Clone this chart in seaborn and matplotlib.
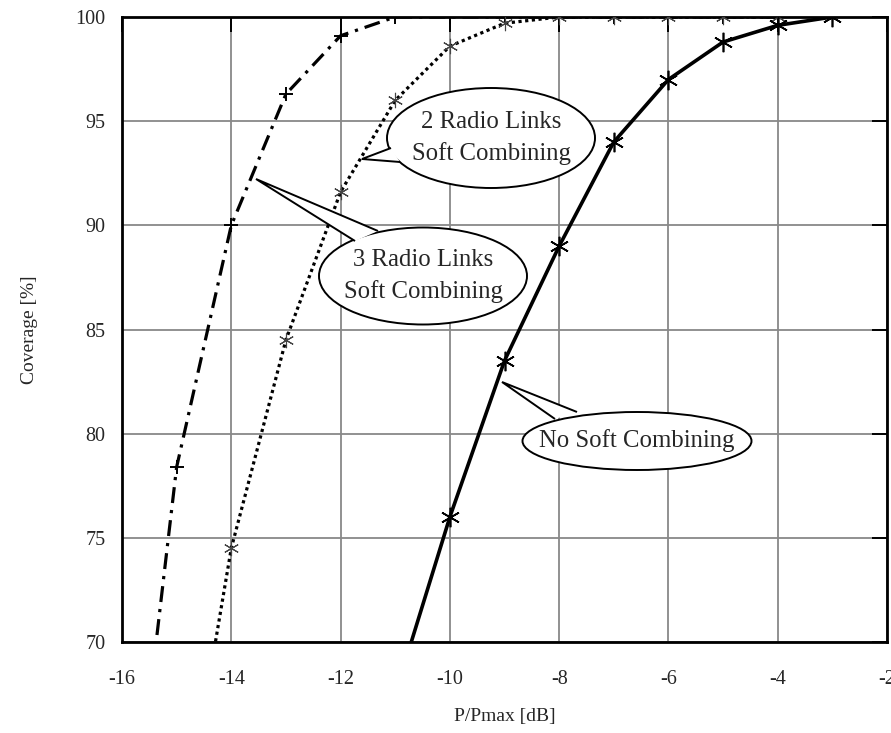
import numpy as np
import pandas as pd
import matplotlib
matplotlib.use("Agg")
import matplotlib.pyplot as plt
import seaborn as sns
from matplotlib.patches import Ellipse, Polygon

# ---- data ----
x_no = [-11, -10, -9, -8, -7, -6, -5, -4, -3]
y_no = [67.5, 76.0, 83.5, 89.0, 94.0, 97.0, 98.8, 99.6, 100.0]

x_two = [-15, -14, -13, -12, -11, -10, -9, -8, -7, -6, -5, -4]
y_two = [59.0, 74.5, 84.5, 91.6, 96.0, 98.6, 99.7, 100.0, 100.0, 100.0, 100.0, 100.0]

x_three = [-16, -15, -14, -13, -12, -11, -10, -9, -8, -7, -6, -5, -4]
y_three = [56.0, 78.4, 90.0, 96.3, 99.1, 100.0, 100.0, 100.0, 100.0, 100.0, 100.0, 100.0, 100.0]

x_ticks = [-16, -14, -12, -10, -8, -6, -4, -2]
y_ticks = [70, 75, 80, 85, 90, 95, 100]

x_label = "P/Pmax [dB]"
y_label = "Coverage [%]"

sns.set_style("white")
plt.rcParams['font.family'] = ['Liberation Serif', 'DejaVu Serif']

fig = plt.figure(figsize=(8.91, 7.33), dpi=100)
ax = fig.add_axes([122 / 891, (733 - 642) / 733, 765 / 891, 625 / 733])

df_no = pd.DataFrame({"x": x_no, "y": y_no})
df_two = pd.DataFrame({"x": x_two, "y": y_two})
df_three = pd.DataFrame({"x": x_three, "y": y_three})

sns.lineplot(data=df_three, x="x", y="y", ax=ax, color="black", lw=2.3,
             linestyle=(0, (5, 2.2, 1, 2.2)), marker="+", markersize=10,
             markeredgewidth=1.4, markeredgecolor="black", zorder=3, sort=False)
sns.lineplot(data=df_two, x="x", y="y", ax=ax, color="black", lw=2.3,
             linestyle=(0, (1, 1.1)), marker=(6, 2, 0), markersize=11,
             markeredgewidth=0.8, markeredgecolor="#444444", zorder=3, sort=False)
sns.lineplot(data=df_no, x="x", y="y", ax=ax, color="black", lw=2.6,
             linestyle="-", marker=(6, 2, 0), markersize=14,
             markeredgewidth=1.2, markeredgecolor="black", zorder=4, sort=False)

ax.set_xlim(-16, -2)
ax.set_ylim(70, 100)
ax.set_xticks(x_ticks)
ax.set_yticks(y_ticks)
ax.set_xticklabels([str(v) for v in x_ticks])
ax.set_yticklabels([str(v) for v in y_ticks])
ax.grid(True, color="#888888", lw=1.3)
ax.set_axisbelow(True)

for s in ax.spines.values():
    s.set_visible(True)
    s.set_color("black")
    s.set_linewidth(2)

ax.tick_params(axis="both", direction="in", length=11, width=1.4, color="black",
               top=True, right=True, labelsize=14.5)
ax.tick_params(axis="x", pad=20)
ax.tick_params(axis="y", pad=12)

ax.set_xlabel(x_label, fontsize=14, labelpad=14)
ax.set_ylabel(y_label, fontsize=14, labelpad=27)

# ---- callouts ----
px = 765 / 14.0
py = 625 / 30.0
def to_data(X, Y):
    return (-16 + (X - 122) / px, 70 + (642 - Y) / py)

def callout(cx, cy, w, h, tip, b1, b2, text):
    c = to_data(cx, cy)
    e = Ellipse(c, w / px, h / py, facecolor="white", edgecolor="black", lw=1.4, zorder=6)
    ax.add_patch(e)
    pts = [to_data(*b1), to_data(*tip), to_data(*b2)]
    p = Polygon(pts, closed=False, facecolor="white", edgecolor="black", lw=1.4, zorder=7)
    ax.add_patch(p)
    ax.text(c[0], c[1], text, ha="center", va="center", fontsize=17.8,
            linespacing=1.55, zorder=8)

callout(491, 138, 208, 100, (362, 159), (391, 148), (400, 162),
        "2 Radio Links\nSoft Combining")
callout(423, 276, 208, 97, (256, 179), (355, 241), (378, 231),
        "3 Radio Links\nSoft Combining")
callout(637, 441, 229, 58, (502, 382), (555, 419), (577, 412),
        "No Soft Combining")

fig.savefig("out.png", dpi=100)
